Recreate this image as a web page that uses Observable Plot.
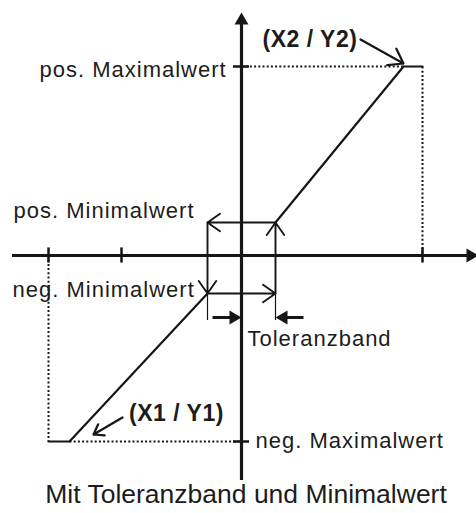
<!DOCTYPE html>
<html><head><meta charset="utf-8">
<script src="https://cdn.jsdelivr.net/npm/d3@7"></script>
<script src="https://cdn.jsdelivr.net/npm/@observablehq/plot@0.6"></script>
<style>
body{margin:0;background:#fff}
svg{display:block}
g[font-size="22"]{letter-spacing:1px}
g[font-size="23"]{letter-spacing:0.5px}
g[font-size="26.5"]{letter-spacing:0px}
</style>
</head><body><div id="chart"></div>
<script>
// Diagram values in abstract units (origin = axis crossing)
const axisX = [-11.45, 11.85];
const axisY = [-11.25, 12.15];
const xTicks = [-9.65, -6.0, 9.05];
const posMax = 9.45, negMax = -9.3;
const posMin = 1.65, negMin = -1.9;
const tolBand = [-1.7, 1.7];
const X1 = -8.6, X2 = 8.1;
const xEnd = [-9.65, 9.05];
const tolArrowY = -3.1, tolExtY = -3.25;
const tolArrowStart = [-1.45, 3.1];
const labelTexts = {
  posMax: "pos. Maximalwert", posMin: "pos. Minimalwert",
  negMin: "neg. Minimalwert", negMax: "neg. Maximalwert",
  tol: "Toleranzband", p1: "(X1 / Y1)", p2: "(X2 / Y2)",
  caption: "Mit Toleranzband und Minimalwert"
};

const ink = "#161616", txt = "#1c1c1c";
const font = "Liberation Sans, Arial, sans-serif";

const posBranch = [[tolBand[1], posMin], [X2, posMax], [xEnd[1], posMax]];
const negBranch = [[xEnd[0], negMax], [X1, negMax], [tolBand[0], negMin]];
const hyst = [
  {x1: tolBand[1], y1: posMin, x2: tolBand[0], y2: posMin},
  {x1: tolBand[0], y1: posMin, x2: tolBand[0], y2: negMin},
  {x1: tolBand[0], y1: negMin, x2: tolBand[1], y2: negMin},
  {x1: tolBand[1], y1: negMin, x2: tolBand[1], y2: posMin}
];
const dotted = [
  {x1: 0, y1: posMax, x2: X2, y2: posMax},
  {x1: xEnd[1], y1: posMax, x2: xEnd[1], y2: 0},
  {x1: xEnd[0], y1: 0, x2: xEnd[0], y2: negMax},
  {x1: X1, y1: negMax, x2: 0, y2: negMax}
];
const tri = {symbol: "triangle", r: 5.14, fill: ink, stroke: "none"};
const lbl = (key, x, y, dx, dy, extra = {}) =>
  Plot.text([labelTexts[key]], {x: () => x, y: () => y, text: d => d, dx, dy,
    textAnchor: "start", lineAnchor: "bottom", fontSize: 22, fill: txt, fontFamily: font, ...extra});

const chart = Plot.plot({
  width: 476, height: 513,
  marginTop: 0, marginRight: 0, marginBottom: 0, marginLeft: 0,
  x: {domain: [-12.05, 11.75], axis: null},
  y: {domain: [-12.9, 12.75], axis: null},
  marks: [
    // dotted guides
    Plot.link(dotted, {x1: "x1", y1: "y1", x2: "x2", y2: "y2", stroke: ink, strokeWidth: 2, strokeDasharray: "2,2.2"}),
    // axes
    Plot.ruleY([0], {x1: axisX[0], x2: axisX[1] - 0.5, stroke: ink, strokeWidth: 3.2}),
    Plot.ruleX([0], {y1: axisY[0], y2: axisY[1] - 0.5, stroke: ink, strokeWidth: 3.2}),
    Plot.dot([0], {x: 0, y: axisY[1], dy: 8, rotate: 0, ...tri}),
    Plot.dot([0], {x: axisX[1], y: 0, dx: -8, rotate: 90, ...tri}),
    // ticks
    Plot.ruleX(xTicks, {x: d => d, y1: -0.38, y2: 0.38, stroke: ink, strokeWidth: 2.5}),
    Plot.ruleY([posMax, negMax], {y: d => d, x1: -0.4, x2: 0.4, stroke: ink, strokeWidth: 2.5}),
    // characteristic
    Plot.line(posBranch, {x: d => d[0], y: d => d[1], stroke: ink, strokeWidth: 2.2}),
    Plot.line(negBranch, {x: d => d[0], y: d => d[1], stroke: ink, strokeWidth: 2.2}),
    // hysteresis loop
    Plot.arrow(hyst, {x1: "x1", y1: "y1", x2: "x2", y2: "y2", stroke: ink, strokeWidth: 1.9, headLength: 12, headAngle: 70}),
    // tolerance band extensions
    Plot.ruleX(tolBand, {x: d => d, y1: negMin, y2: tolExtY, stroke: ink, strokeWidth: 1.2}),
    // tolerance band arrows
    Plot.link([0], {x1: tolArrowStart[0], x2: -0.4, y1: tolArrowY, y2: tolArrowY, stroke: ink, strokeWidth: 3}),
    Plot.dot([0], {x: 0, y: tolArrowY, dx: -8, rotate: 90, ...tri}),
    Plot.link([0], {x1: tolArrowStart[1], x2: tolBand[1] + 0.4, y1: tolArrowY, y2: tolArrowY, stroke: ink, strokeWidth: 3}),
    Plot.dot([0], {x: tolBand[1], y: tolArrowY, dx: 8, rotate: -90, ...tri}),
    // point label arrows
    Plot.arrow([0], {x1: X2 - 2.15, y1: posMax + 1.35, x2: X2, y2: posMax + 0.15, stroke: ink, strokeWidth: 2.2, headLength: 12, headAngle: 70}),
    Plot.arrow([0], {x1: X1 + 2.65, y1: negMax + 1.2, x2: X1 + 1.2, y2: negMax + 0.35, stroke: ink, strokeWidth: 2.2, headLength: 12, headAngle: 70}),
    // labels
    lbl("posMax", 0, posMax, -202, 10.5),
    lbl("posMin", tolBand[0], posMin, -194, -5),
    lbl("negMin", tolBand[0], negMin, -195, 3),
    lbl("tol", 0, tolArrowY, 6, 28.7),
    lbl("negMax", 0, negMax, 14, 6),
    lbl("p1", X1, negMax, 59.5, -20.3, {fontSize: 23, fontWeight: "bold"}),
    lbl("p2", X2, posMax, -141, -19.3, {fontSize: 23, fontWeight: "bold"}),
    lbl("caption", 0, axisY[0], 4.5, 22.7, {fontSize: 26.5, textAnchor: "middle"})
  ]
});
document.getElementById("chart").append(chart);
</script>
</body></html>
